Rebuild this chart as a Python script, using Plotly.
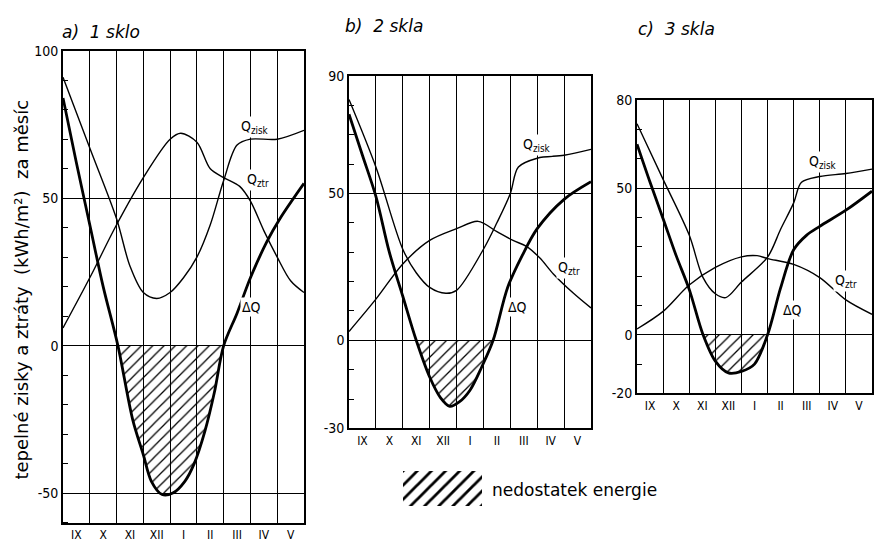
import plotly.graph_objects as go

# ---------------- data ----------------
months = ["IX", "X", "XI", "XII", "I", "II", "III", "IV", "V"]
month_pos = [0.5, 1.5, 2.5, 3.5, 4.5, 5.5, 6.5, 7.5, 8.5]
month_bounds = [0, 1, 2, 3, 4, 5, 6, 7, 8, 9]

# panel a) 1 sklo
a_zisk_x = [0, 1, 2, 2.5, 3, 3.5, 4, 4.5, 5, 5.5, 6, 6.5, 7, 8, 9]
a_zisk_y = [91, 67, 43, 27, 18, 16, 18, 23, 30, 41, 56, 68, 70, 70, 73]
a_ztr_x = [0, 1, 2, 3, 4, 4.4, 5, 5.5, 6, 6.6, 7, 7.5, 8, 8.5, 9]
a_ztr_y = [6, 23, 41, 57, 70, 72, 69, 60, 57, 54, 49, 39, 30, 22, 18]
a_dq_x = [0, 0.5, 1, 1.5, 2.05, 2.6, 3.0, 3.3, 3.7, 4.1, 4.55, 4.9, 5.3, 5.65, 6.0,
          6.5, 7.0, 7.6, 8.1, 9]
a_dq_y = [84, 62, 41, 20, 0, -25, -37, -46, -50.5, -50, -46, -40, -29, -16, 0,
          11, 23, 35, 43, 55]

# panel b) 2 skla
b_zisk_x = [0, 1, 2, 2.5, 3, 3.6, 4, 5, 5.5, 6, 6.3, 7, 8, 9]
b_zisk_y = [82, 59, 31, 23, 18, 16, 17, 31, 40, 50, 59, 62, 63, 65]
b_ztr_x = [0, 1, 2, 3, 4, 4.8, 5.5, 6.1, 6.6, 7.1, 7.6, 8.35, 9]
b_ztr_y = [3, 14, 26, 34, 38, 40.5, 37, 34, 32, 28, 22.6, 16, 11]
b_dq_x = [0, 0.5, 1, 1.5, 2.0, 2.5, 3.0, 3.4, 3.75, 4.1, 4.5, 4.94, 5.36, 5.9, 6.45,
          7.0, 8.0, 9]
b_dq_y = [77, 63, 49, 30, 15, 0, -12.5, -19.5, -22.5, -21, -17, -9, 0, 18, 29,
          38, 48, 54]

# panel c) 3 skla
c_zisk_x = [0, 1, 2, 2.53, 3, 3.4, 4, 5, 5.5, 6, 6.3, 7, 8, 9]
c_zisk_y = [72, 53, 34, 19.5, 14, 12.7, 18, 26.5, 36, 45, 52, 54, 55, 56.5]
c_ztr_x = [0, 1, 2, 3, 4, 4.6, 5, 6, 7, 8, 9]
c_ztr_y = [2, 8, 17, 23, 26.6, 27, 26, 24, 19.5, 11.9, 7]
c_dq_x = [0, 0.5, 1, 1.5, 2, 2.53, 3.0, 3.5, 4.0, 4.5, 5.0, 5.5, 6.0, 6.5, 7, 8, 9]
c_dq_y = [65, 52, 39.6, 27, 15.5, 0, -9, -13, -12.5, -10, 0, 16, 29, 34, 37, 42.5, 49]

titles = ["a)  1 sklo", "b)  2 skla", "c)  3 skla"]
y_title = "tepelné zisky a ztráty  (kWh/m²)  za měsíc"
legend_text = "nedostatek energie"

a_ticks = [100, 50, 0, -50]
b_ticks = [90, 50, 0, -30]
c_ticks = [80, 50, 0, -20]
a_range = [-60, 100]
b_range = [-30, 90]
c_range = [-20, 80]

# label anchor positions (x in months, y in kWh/m2)
a_lab = {"zisk": (7.16, 74), "ztr": (7.3, 56), "dq": (7.05, 13)}
b_lab = {"zisk": (7.0, 66.5), "ztr": (8.2, 24.7), "dq": (6.25, 11.5)}
c_lab = {"zisk": (7.14, 59), "ztr": (8.0, 18.4), "dq": (5.95, 8.5)}

# ---------------- figure ----------------
W, H = 875, 550
FONT = "DejaVu Sans, sans-serif"
FONT_C = "DejaVu Sans Condensed, DejaVu Sans, sans-serif"

fig = go.Figure()

panels = [
    dict(xd=[63 / W, 304 / W], yd=[1 - 530 / H, 1 - 44 / H], rng=a_range, ticks=a_ticks,
         zx=a_zisk_x, zy=a_zisk_y, tx=a_ztr_x, ty=a_ztr_y, dx=a_dq_x, dy=a_dq_y, lab=a_lab,
         title_xy=(60, 25)),
    dict(xd=[349 / W, 591 / W], yd=[1 - 433 / H, 1 - 70 / H], rng=b_range, ticks=b_ticks,
         zx=b_zisk_x, zy=b_zisk_y, tx=b_ztr_x, ty=b_ztr_y, dx=b_dq_x, dy=b_dq_y, lab=b_lab,
         title_xy=(343, 19)),
    dict(xd=[637 / W, 872 / W], yd=[1 - 397 / H, 1 - 95 / H], rng=c_range, ticks=c_ticks,
         zx=c_zisk_x, zy=c_zisk_y, tx=c_ztr_x, ty=c_ztr_y, dx=c_dq_x, dy=c_dq_y, lab=c_lab,
         title_xy=(636, 22)),
]

annotations = []
for i, p in enumerate(panels):
    n = "" if i == 0 else str(i + 1)
    xa, ya = "x" + n, "y" + n
    lo, hi = p["rng"]
    minor_vals = [v for v in range(lo, hi + 1, 10) if v not in p["ticks"]]
    fig.update_layout(**{
        "xaxis" + n: dict(domain=p["xd"], anchor=ya, range=[0, 9], tickmode="array",
                          tickvals=month_pos, ticktext=months, ticks="", showgrid=False,
                          zeroline=False, showline=True, mirror=True, linecolor="black",
                          linewidth=1.6, tickfont=dict(size=12, color="black", family=FONT_C),
                          fixedrange=True,
                          minor=dict(tickmode="array", tickvals=month_bounds, showgrid=True,
                                     gridcolor="black", gridwidth=1.3, ticks="")),
        "yaxis" + n: dict(domain=p["yd"], anchor=xa, range=[lo, hi], tickmode="array",
                          tickvals=p["ticks"], ticktext=[str(t) for t in p["ticks"]],
                          ticks="", showgrid=True, gridcolor="black", gridwidth=1.3,
                          zeroline=False, showline=True, mirror=True, linecolor="black",
                          linewidth=1.6, tickfont=dict(size=14, color="black", family=FONT_C),
                          fixedrange=True,
                          minor=dict(tickmode="array", tickvals=minor_vals, ticks="inside",
                                     ticklen=5, tickcolor="black", tickwidth=1.2,
                                     showgrid=False)),
    })

    # hatched deficit region (negative part of dQ)
    neg_idx = [k for k, v in enumerate(p["dy"]) if v <= 0]
    k0, k1 = neg_idx[0], neg_idx[-1]
    fig.add_trace(go.Scatter(
        x=p["dx"][k0:k1 + 1], y=p["dy"][k0:k1 + 1], xaxis=xa, yaxis=ya, mode="lines",
        line=dict(width=0, shape="spline", smoothing=0.9), fill="tozeroy",
        fillcolor="rgba(0,0,0,0)",
        fillpattern=dict(shape="/", fgcolor="black", bgcolor="rgba(255,255,255,0)",
                         fgopacity=1, size=8, solidity=0.16),
        showlegend=False, hoverinfo="skip"))

    fig.add_trace(go.Scatter(x=p["zx"], y=p["zy"], xaxis=xa, yaxis=ya, mode="lines",
                             line=dict(color="black", width=1.4, shape="spline", smoothing=0.9),
                             showlegend=False, name="Q zisk"))
    fig.add_trace(go.Scatter(x=p["tx"], y=p["ty"], xaxis=xa, yaxis=ya, mode="lines",
                             line=dict(color="black", width=1.4, shape="spline", smoothing=0.9),
                             showlegend=False, name="Q ztr"))
    fig.add_trace(go.Scatter(x=p["dx"], y=p["dy"], xaxis=xa, yaxis=ya, mode="lines",
                             line=dict(color="black", width=2.8, shape="spline", smoothing=0.9),
                             showlegend=False, name="ΔQ"))

    lab = p["lab"]
    for key, txt in [("zisk", "Q<sub>zisk</sub>"), ("ztr", "Q<sub>ztr</sub>"), ("dq", "ΔQ")]:
        annotations.append(dict(x=lab[key][0], y=lab[key][1], xref=xa, yref=ya, text=txt,
                                showarrow=False, bgcolor="white", borderpad=1,
                                font=dict(size=14, color="black", family=FONT_C)))

    tx, ty = p["title_xy"]
    annotations.append(dict(x=tx / W, y=1 - ty / H, xref="paper", yref="paper",
                            text=titles[i], showarrow=False, xanchor="left", yanchor="middle",
                            font=dict(size=17, color="black", family=FONT, style="italic")))

# y-axis title
annotations.append(dict(x=22 / W, y=1 - 290 / H, xref="paper", yref="paper", text=y_title,
                        textangle=-90, showarrow=False, xanchor="center", yanchor="middle",
                        font=dict(size=18, color="black", family=FONT)))

# legend swatch on a hidden axis
fig.update_layout(
    xaxis4=dict(domain=[403 / W, 482 / W], anchor="y4", range=[0, 1], visible=False,
                fixedrange=True),
    yaxis4=dict(domain=[1 - 513 / H, 1 - 477 / H], anchor="x4", range=[0, 1], visible=False,
                fixedrange=True),
)
fig.add_trace(go.Scatter(x=[0, 1, 1, 0, 0], y=[0, 0, 1, 1, 0], xaxis="x4", yaxis="y4",
                         mode="lines", line=dict(width=0), fill="toself",
                         fillcolor="rgba(0,0,0,0)",
                         fillpattern=dict(shape="/", fgcolor="black",
                                          bgcolor="rgba(255,255,255,0)", fgopacity=1,
                                          size=10, solidity=0.28),
                         showlegend=False, hoverinfo="skip"))
annotations.append(dict(x=490 / W, y=1 - 496 / H, xref="paper", yref="paper", text=legend_text,
                        showarrow=False, xanchor="left", yanchor="middle",
                        font=dict(size=17, color="black", family=FONT)))

fig.update_layout(width=W, height=H, margin=dict(l=0, r=0, t=0, b=0),
                  paper_bgcolor="white", plot_bgcolor="white", annotations=annotations,
                  showlegend=False, font=dict(family=FONT, size=13, color="black"))

fig.write_html("out.html", config={"displayModeBar": False},
               post_script="document.body.style.margin='0';"
                           "document.body.style.overflow='hidden';")
